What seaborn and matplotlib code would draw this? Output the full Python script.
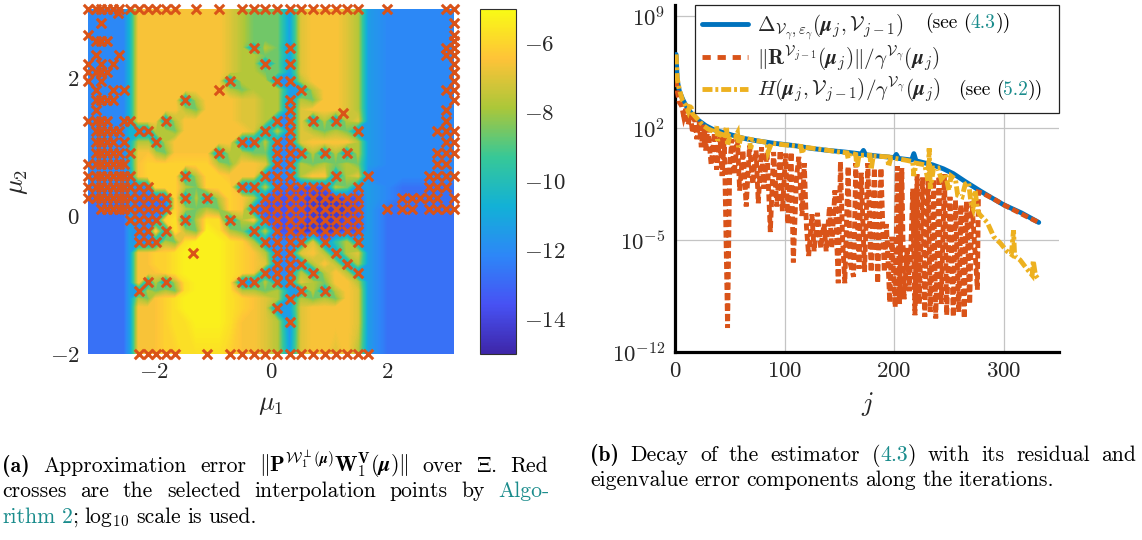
import numpy as np
import pandas as pd
import matplotlib
matplotlib.use("Agg")
import matplotlib.pyplot as plt
from matplotlib.cm import ScalarMappable
from matplotlib.colors import LinearSegmentedColormap, Normalize
from matplotlib.lines import Line2D
import seaborn as sns

W, H = 1142, 540

# ---------- panel (a): grid of parameter values ----------
mu1_grid = [-3.14,-3.01,-2.91,-2.82,-2.71,-2.61,-2.52,-2.42,-2.27,-2.11,-1.98,-1.81,-1.64,-1.47,-1.28,-1.10,-0.90,-0.71,
            -0.50,-0.30,-0.10,0.11,0.32,0.52,0.72,0.92,1.11,1.30,1.49,1.66,1.99,2.25,2.42,2.56,2.71,2.85,3.00,3.14]
mu2_grid = [3.00,2.79,2.63,2.54,2.44,2.33,2.21,2.09,1.96,1.83,1.68,1.54,1.38,1.23,1.07,0.91,0.75,0.58,0.42,0.26,0.10,
            -0.06,-0.22,-0.38,-0.54,-0.69,-0.82,-0.96,-1.09,-1.20,-1.33,-1.53,-2.00]

# colour level of each grid node (one character per node), and the log10 error of each level
level_values = {'0':-14.3,'1':-13.5,'2':-12.7,'3':-12.1,'4':-11.4,'5':-10.6,'6':-9.6,'7':-8.6,'8':-7.7,'9':-7.0,
                'a':-6.5,'b':-6.1,'c':-5.7,'d':-5.3}
error_rows = [
 "3333333 5 aaaaaaaaa9 877 749 aaa98 4 33333333",
 "3333333 5 aaaaaaaaa9 877 749 aaa98 4 33333333",
 "3333333 5 aaaaaaaaa9 877 749 aaa98 4 33333333",
 "3333333 5 aaaaaaaaa9 877 749 aaa98 4 33333333",
 "3333333 5 aaaaaaaaa9 838 739 aaa98 4 33333333",
 "3333333 5 aaaaaaaaa9 887 749 aaa98 4 33333333",
 "3333333 5 aaaaaaaaa9 883 739 aaa98 4 33333333",
 "3333333 5 aaaaaaaaa9 887 749 aaa98 4 33333333",
 "3333333 5 aaaaaaaaa3 888 338 aaa98 4 33333333",
 "3333333 5 aaaaaaaaa8 788 843 8aa98 4 33333333",
 "3333333 5 aaaaa38aaa 998 838 7aa98 4 33333333",
 "3333333 5 aaaaa87aaa 998 839 aaa98 4 33333333",
 "3333333 5 aaa38aaaaa 998 339 38389 4 33333333",
 "3333333 5 33887aaaaa a93 839 87873 4 33333333",
 "3333333 5 8838aaaaaa 338 339 aaaa8 4 33333333",
 "3333333 5 aa87aaaa38 877 333 83838 4 33333333",
 "3333333 5 abbbbbbb87 aa9 338 78787 4 33333333",
 "3333333 4 abbbb38bba aa3 338 aa389 3 33333333",
 "3333333 4 33bbb87bbb 338 221 11873 4 32222222",
 "2222222 3 2222b3838b a82 111 00011 4 32222222",
 "2222222 3 2222b8787b a31 111 00001 4 22222222",
 "2222222 4 333bc38cc3 8a2 111 00011 4 22222222",
 "2222222 4 33b3c87dc8 738 110 00011 4 22222222",
 "2222222 4 33387cdddc b83 334 92684 4 22222222",
 "2222222 4 aabbcddddc ba8 339 a8389 4 22222222",
 "2222222 4 aabbcddddc ba9 333 8a838 4 22222222",
 "2222222 4 aaabcddddc ba3 338 38a83 4 22222222",
 "2222222 4 a3838cdddc 338 449 87aa8 4 22222222",
 "2222222 4 38787cdddc 887 843 838a9 4 22222222",
 "2222222 4 87abcddddc ba9 838 787a9 4 22222222",
 "2222222 4 aaabcddddc ba9 349 aaaa9 4 22222222",
 "2222222 4 aaabccdddc aa9 839 aaaa9 4 22222222",
 "2222222 4 aaabbccccb aa9 849 aa9a8 4 22222222",
]

# selected interpolation points: per mu2 row, the indices into mu1_grid
cross_cols = [
 [0,1,2,3,4,5,7,8,9,10,11,12,14,16,18,19,20,21,22,23,24,25,26,27,28,30,36,37],
 [2,37],[0,37],[1,2,3,37],[19,22,36,37],[1,5,36,37],[0,2,4,20,22,37],[0,1,2,3,37],[0,2,17,21,22,37],
 [1,4,6,16,23,36,37],[1,2,3,4,13,22,37],[1,22,36],[0,1,2,3,6,7,11,21,22,24,26,36],
 [1,2,3,4,5,8,9,20,22,28,35,36,37],[1,2,3,4,6,10,18,19,21,22,36,37],
 [1,2,3,4,5,7,16,21,22,23,25,27,35,36,37],[0,1,2,3,4,5,6,21,22,35,36],
 [0,1,2,3,4,5,6,7,13,20,21,22,26,29,34,35,36,37],
 [0,1,2,3,4,5,6,7,8,9,18,19,21,22,23,24,25,28,34,35,36],
 [0,1,2,3,4,5,6,7,8,9,10,11,13,15,20,21,22,23,24,25,26,27,28,31,32,33,34,35,37],
 [2,3,4,5,6,7,8,9,10,11,19,20,21,22,23,24,25,26,27,28,30,31,32,34,35,36,37],
 [7,8,9,10,13,17,20,21,22,23,24,25,26,27,28],[8,9,11,19,21,22,23,24,25,26,27,28],
 [8,9,10,20,21,22,23,25,28],[21,22,26],[21,22,23,27],[20,21,22,24,28],[9,11,18,19,21,22],[8,23,25],[22],[21],[22],
 [8,9,10,11,12,15,17,18,19,20,21,22,23,24,25,26,27,28,29],
]
extra_mu1 = [1.23,-1.33,-2.62]
extra_mu2 = [1.49,-0.54,2.94]

parula_anchors = ['#3E26A8','#4752F4','#2D87F7','#12B1D6','#37C897','#ABC739','#FEC338','#F9FB15']
cb_ticks = [-6,-8,-10,-12,-14]

# ---------- panel (b): log10 of the three series ----------
blue_j = [1,2,4,7,10,14,18,22,28,35,45,55,63,75,90,109,125,140,155,170,172,174,185,200,202,204,216,218,220,235,245,254,265,279,290,300,316,332]
blue_log = [6.6,5.0,4.3,3.8,3.4,3.0,2.7,2.45,2.15,1.9,1.7,1.5,1.35,1.2,1.05,0.9,0.72,0.6,0.5,0.38,0.6,0.33,0.25,0.15,0.35,0.1,0.0,0.4,-0.05,-0.3,-0.55,-0.85,-1.35,-1.95,-2.4,-2.8,-3.3,-3.9]

orange_j = [1,2,4,6,8,10,12,14,16,18,20,22,24,26,28,30,33,36,38,41,43,45,48,50,52,54,57,59,62,65,68,71,74,76,79,81,84,87,90,93,96,98,
            101,103,106,108,111,113,116,118,120,122,125,127,130,133,136,138,141,143,146,149,151,153,155,158,160,163,165,168,170,173,176,
            179,182,185,188,191,193,196,198,201,203,205,207,209,212,214,217,219,221,223,226,228,231,233,236,238,241,243,246,248,251,254,
            256,259,261,264,266,269,271,276,277,280,290,300,310,320,332]
orange_log = [5.0,4.3,3.6,3.4,2.7,3.2,2.2,2.9,1.7,2.6,1.3,2.4,0.8,2.2,0.6,2.0,-0.3,1.7,-0.6,1.5,-1.0,1.4,-10.5,-0.2,1.3,-0.9,1.3,-1.9,0.6,-2.9,0.9,-1.5,0.6,-2.7,0.8,-1.8,0.5,-4.5,0.5,-2.9,0.6,-3.2,
              0.4,-4.0,0.5,-6.4,-1.0,0.2,-3.5,-0.2,-4.2,-6.0,-3.4,-5.7,-3.3,-5.5,-4.0,-5.7,-2.9,-5.5,-1.9,-7.7,-0.1,-5.0,-7.7,-0.4,-6.5,-7.3,-0.2,-6.8,-0.8,-7.0,-0.2,
              -7.0,-0.5,-7.7,-0.5,-7.0,-4.0,-8.9,-4.8,-9.2,-0.4,-9.0,-0.5,-8.7,-5.5,-8.2,-1.8,-9.7,-0.9,-9.0,-1.1,-9.8,-0.9,-9.5,-1.2,-9.9,-1.0,-9.0,-0.9,-9.7,-2.3,-9.8,
              -2.5,-9.5,-2.8,-9.9,-2.6,-9.0,-2.6,-8.1,-2.0,-2.05,-2.4,-2.8,-3.15,-3.5,-3.9]

yellow_j = [1,2,4,7,10,12,14,16,20,25,30,35,36,38,39,41,45,47,48,50,55,57,58,60,68,69,71,84,85,88,100,115,116,118,135,150,157,158,160,165,166,168,178,179,181,194,195,197,
            210,217,218,220,228,231,232,233,236,240,243,247,250,252,256,258,262,265,268,270,272,274,276,278,285,291,297,303,307,309,310,315,320,326,327,329,332]
yellow_log = [6.6,5.1,4.4,3.7,3.4,3.05,3.5,2.9,2.6,2.2,1.95,1.8,1.7,2.1,1.2,1.65,1.55,2.1,0.9,1.5,1.45,1.7,0.8,1.4,1.3,0.7,1.25,1.1,0.5,1.05,0.95,0.85,0.4,0.8,0.65,0.5,0.45,0.1,0.45,0.35,-0.5,0.3,0.3,-0.6,0.25,0.2,-0.4,0.15,
              0.0,-0.1,-1.0,-0.2,-0.3,-1.3,0.73,-1.8,-0.5,-0.5,-1.2,-0.9,-1.9,-1.0,-1.2,-2.2,-2.3,-1.5,-1.4,-2.6,-3.0,-1.9,-3.1,-3.4,-3.9,-4.8,-5.2,-5.7,-5.9,-4.4,-6.0,-6.25,-6.7,-7.2,-6.3,-7.2,-7.5]

x_ticks_b = [0,100,200,300]
y_exps_b = [-12,-5,2,9]
legend_labels = [r'$\Delta_{\mathcal{V}_{\gamma},\varepsilon_{\gamma}}(\boldsymbol{\mu}_j,\mathcal{V}_{j-1})$',
                 r'$\|\mathbf{R}^{\mathcal{V}_{j-1}}(\boldsymbol{\mu}_j)\|/\gamma^{\mathcal{V}_{\gamma}}(\boldsymbol{\mu}_j)$',
                 r'$H(\boldsymbol{\mu}_j,\mathcal{V}_{j-1})/\gamma^{\mathcal{V}_{\gamma}}(\boldsymbol{\mu}_j)$']

BLUE, ORANGE, YELLOW, TEAL = '#0072BD', '#D95319', '#EDB120', '#1A8C8C'
TICK_SIZE = 16.5
ORANGE_DASH, ORANGE_KEY = (0, (1.45, 0.7)), (0, (1.7, 1.4))
YELLOW_DASH = (0, (2.05, 0.6, 0.6, 0.6))

sns.set_theme(style='white')
plt.rcParams['font.family'] = ['cmr10', 'DejaVu Serif']
plt.rcParams['mathtext.fontset'] = 'cm'
plt.rcParams['axes.formatter.use_mathtext'] = True
plt.rcParams['axes.unicode_minus'] = True

fig = plt.figure(figsize=(W/100, H/100), dpi=100, facecolor='white')
def axbox(l, t, r, b):
    return fig.add_axes([l/W, 1-b/H, (r-l)/W, (b-t)/H])

# ---------- panel (a) ----------
ax = axbox(88, 9, 454, 354)
parula = LinearSegmentedColormap.from_list('parula', parula_anchors, N=256)
norm = Normalize(-15, -5)
Z = np.array([[level_values[c] for c in row.replace(' ', '')] for row in error_rows])
ax.contourf(mu1_grid, mu2_grid, Z, levels=np.linspace(-15, -5, 161), cmap=parula, norm=norm, antialiased=False)
xs, ys = [], []
for y, cols in zip(mu2_grid, cross_cols):
    for c in cols:
        xs.append(mu1_grid[c]); ys.append(y)
xs += extra_mu1; ys += extra_mu2
df = pd.DataFrame({'mu1': xs, 'mu2': ys})
sns.scatterplot(data=df, x='mu1', y='mu2', marker='x', s=46, color=ORANGE, linewidth=2.2, ax=ax, clip_on=False, zorder=3, legend=False)
ax.set_xlim(-3.14, 3.14); ax.set_ylim(-2, 3)
ax.set_xticks([-2,0,2]); ax.set_xticklabels([r'$-2$', r'$0$', r'$2$'], fontsize=TICK_SIZE)
ax.set_yticks([-2,0,2]); ax.set_yticklabels([r'$-2$', r'$0$', r'$2$'], fontsize=TICK_SIZE)
ax.tick_params(length=0, pad=6)
ax.set_xlabel(r'$\mu_1$', fontsize=19, labelpad=8)
ax.set_ylabel(r'$\mu_2$', fontsize=19, labelpad=14)
for s in ax.spines.values():
    s.set_visible(False)

cax = axbox(480, 9, 516, 354)
cb = fig.colorbar(ScalarMappable(norm=norm, cmap=parula), cax=cax)
cb.set_ticks(cb_ticks); cb.set_ticklabels([rf'$-{abs(v)}$' for v in cb_ticks], fontsize=TICK_SIZE)
cb.ax.tick_params(length=0, pad=6)
cb.outline.set_edgecolor('#303030'); cb.outline.set_linewidth(0.8)

# ---------- panel (b) ----------
ax2 = axbox(675, 5, 1059, 352)
def series(j, lg, color, ls, z):
    d = pd.DataFrame({'j': j, 'v': 10.0**np.array(lg)})
    sns.lineplot(data=d, x='j', y='v', ax=ax2, color=color, linewidth=3.5, estimator=None, sort=False, legend=False, zorder=z)
    l = ax2.lines[-1]
    l.set_linestyle(ls); l.set_dash_capstyle('butt'); l.set_dash_joinstyle('miter')
    return l
l1 = series(blue_j, blue_log, BLUE, '-', 3)
l2 = series(orange_j, orange_log, ORANGE, ORANGE_DASH, 4)
l3 = series(yellow_j, yellow_log, YELLOW, YELLOW_DASH, 5)
ax2.set_yscale('log')
ax2.set_xlim(0, 350.5)
ax2.set_ylim(1e-12, 10**9.69)
ax2.set_xticks(x_ticks_b); ax2.set_xticklabels([rf'${v}$' for v in x_ticks_b], fontsize=TICK_SIZE)
ax2.set_yticks([10.0**e for e in y_exps_b]); ax2.set_yticklabels([rf'$10^{{{e}}}$' for e in y_exps_b], fontsize=TICK_SIZE)
ax2.minorticks_off()
ax2.tick_params(axis='both', direction='in', length=7, width=0.8, color='#8c8c8c', pad=7)
ax2.grid(True, color='#c4c4c4', linewidth=0.9)
ax2.set_axisbelow(True)
ax2.set_xlabel(r'$j$', fontsize=19, labelpad=6)
ax2.set_ylabel('')
for k in ('top', 'right'):
    ax2.spines[k].set_visible(False)
for k in ('left', 'bottom'):
    ax2.spines[k].set_color('black'); ax2.spines[k].set_linewidth(2.3); ax2.spines[k].set_visible(True)

leg_handles = [Line2D([], [], color=BLUE, lw=3.5),
               Line2D([], [], color=ORANGE, lw=3.5, ls=ORANGE_KEY, dash_capstyle='butt'),
               Line2D([], [], color=YELLOW, lw=3.5, ls=YELLOW_DASH, dash_capstyle='butt')]
x0 = (695-675)/384; w0 = (1059-695)/384
leg = ax2.legend(leg_handles, legend_labels, loc='upper left', bbox_to_anchor=(x0, 1.0, w0, 0.0), mode='expand',
                 borderaxespad=0, frameon=True, fancybox=False, framealpha=1, edgecolor='#222222', fontsize=15.2,
                 handlelength=2.15, handletextpad=0.45, labelspacing=0.06, borderpad=0.35, facecolor='white')
leg.get_frame().set_linewidth(0.9)
leg.set_zorder(10)

# ---------- running text ----------
fig.canvas.draw()
rend = fig.canvas.get_renderer()
R = ['cmr10', 'DejaVu Serif']; Bf = ['cmb10', 'DejaVu Serif']
def runs(x, y, parts, size=15.6, right=None, z=20):
    """parts: (text, colour, family, joined-to-next). Words are spaced to reach `right` when given."""
    texts = []
    for s, color, fam, join in parts:
        t = fig.text(x/W, 1-y/H, s, color=color, fontsize=size, family=fam, va='baseline', ha='left', zorder=z)
        texts.append((t, t.get_window_extent(rend).width, join))
    n_gaps = sum(1 for _, _, j in texts[:-1] if not j)
    total = sum(w for _, w, _ in texts)
    gap = (right - x - total)/n_gaps if right is not None and n_gaps else size*0.4
    for t, w, join in texts:
        t.set_x(x/W)
        x += w + (0 if join else gap)
def words(s, color='black', fam=R):
    return [(w, color, fam, False) for w in s.split()]

runs(925, 28, [('(see', 'black', R, False), ('(', 'black', R, True), ('4.3', TEAL, R, True), ('))', 'black', R, True)], size=14)
runs(958, 95, [('(see', 'black', R, False), ('(', 'black', R, True), ('5.2', TEAL, R, True), ('))', 'black', R, True)], size=14)

cap1 = r'$\|\mathbf{P}^{\mathcal{W}_1^{\perp}(\boldsymbol{\mu})}\mathbf{W}_1^{\mathbf{V}}(\boldsymbol{\mu})\|$'
runs(2, 472, [('(a)', 'black', Bf, False)] + words('Approximation error') + [(cap1, 'black', R, False)] + words(r'over $\Xi$. Red'), right=548)
runs(2, 497, words('crosses are the selected interpolation points by') + [('Algo-', TEAL, R, False)], right=550)
runs(2, 523, [('rithm', TEAL, R, False), ('2', TEAL, R, True), (';', 'black', R, False), ('log', 'black', R, True), (r'$_{10}$', 'black', R, False)] + words('scale is used.'))
runs(590, 461, [('(b)', 'black', Bf, False)] + words('Decay of the estimator') + [('(', 'black', R, True), ('4.3', TEAL, R, True), (')', 'black', R, False)] + words('with its residual and'), right=1136)
runs(590, 486, words('eigenvalue error components along the iterations.'))

fig.savefig('out.png', dpi=100)
